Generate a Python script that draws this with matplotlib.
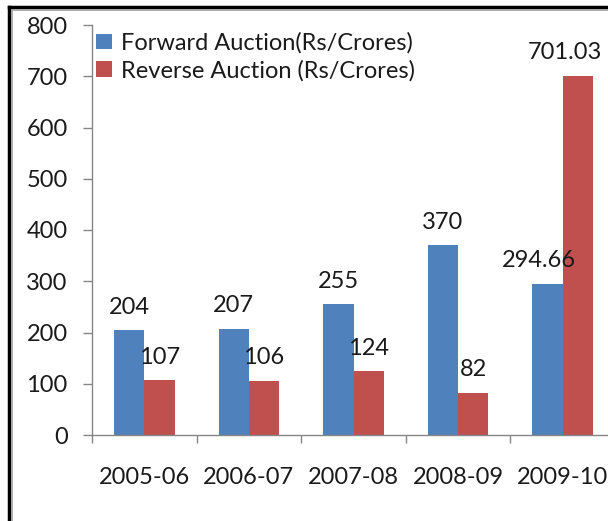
import matplotlib
matplotlib.use("Agg")
import matplotlib.pyplot as plt
from matplotlib.lines import Line2D

years = ["2005-06", "2006-07", "2007-08", "2008-09", "2009-10"]
forward = [204, 207, 255, 370, 294.66]
reverse = [107, 106, 124, 82, 701.03]
forward_labels = ["204", "207", "255", "370", "294.66"]
reverse_labels = ["107", "106", "124", "82", "701.03"]

BLUE = "#4F81BD"
RED = "#C0504D"
GREY = "#868686"
TEXT = "#1a1a1a"
FS = 17


def main():
    plt.rcParams["font.family"] = ["Lato", "DejaVu Sans"]
    fig = plt.figure(figsize=(6.08, 5.21), dpi=100)
    ax = fig.add_axes([92 / 608, 86 / 521, 523 / 608, 410 / 521])

    x = range(len(years))
    w = 0.29
    xf = [i - w / 2 for i in x]
    xr = [i + w / 2 for i in x]
    ax.bar(xf, forward, w, color=BLUE, label="Forward Auction(Rs/Crores)")
    ax.bar(xr, reverse, w, color=RED, label="Reverse Auction (Rs/Crores)")

    for i, (v, s) in enumerate(zip(forward, forward_labels)):
        dx = -6 if i == 4 else 0
        ax.annotate(s, (xf[i], v), xytext=(dx, 9), textcoords="offset points",
                    ha="center", va="bottom", fontsize=FS, color=TEXT)
    for i, (v, s) in enumerate(zip(reverse, reverse_labels)):
        dx = -9 if i == 4 else 0
        ax.annotate(s, (xr[i], v), xytext=(dx, 9), textcoords="offset points",
                    ha="center", va="bottom", fontsize=FS, color=TEXT)

    ax.set_xlim(-0.5, len(years) - 0.5)
    ax.set_ylim(0, 800)
    ax.set_yticks(range(0, 801, 100))
    ax.set_xticks(list(x))
    ax.set_xticklabels(years)
    ax.set_xticks([i - 0.5 for i in range(len(years) + 1)], minor=True)

    for s in ["top", "right"]:
        ax.spines[s].set_visible(False)
    for s in ["left", "bottom"]:
        ax.spines[s].set_color(GREY)
        ax.spines[s].set_linewidth(1)

    ax.tick_params(axis="y", length=6.5, width=1, color=GREY, pad=11,
                   labelsize=FS, labelcolor=TEXT)
    ax.tick_params(axis="x", which="major", length=0, pad=23,
                   labelsize=FS, labelcolor=TEXT)
    ax.tick_params(axis="x", which="minor", length=6, width=1, color=GREY)

    ax.legend(loc="upper left", bbox_to_anchor=(-0.019, 1.017), frameon=False,
              fontsize=FS, handlelength=0.65, handleheight=0.65,
              handletextpad=0.4, labelspacing=0.25, borderaxespad=0.2,
              labelcolor=TEXT)

    # outer frame of the screenshot
    fig.add_artist(Line2D([8.5 / 608, 8.5 / 608], [0, 1 - 7 / 521],
                          transform=fig.transFigure, color="black", lw=2.5))
    fig.add_artist(Line2D([8.5 / 608, 1], [1 - 7 / 521, 1 - 7 / 521],
                          transform=fig.transFigure, color="black", lw=2.5))
    fig.add_artist(Line2D([11.5 / 608, 11.5 / 608], [0, 1 - 10 / 521],
                          transform=fig.transFigure, color="#a0a0a0", lw=1.2))
    fig.add_artist(Line2D([11.5 / 608, 1], [1 - 10 / 521, 1 - 10 / 521],
                          transform=fig.transFigure, color="#a0a0a0", lw=1.2))

    fig.savefig("out.png", dpi=100)


if __name__ == "__main__":
    main()
